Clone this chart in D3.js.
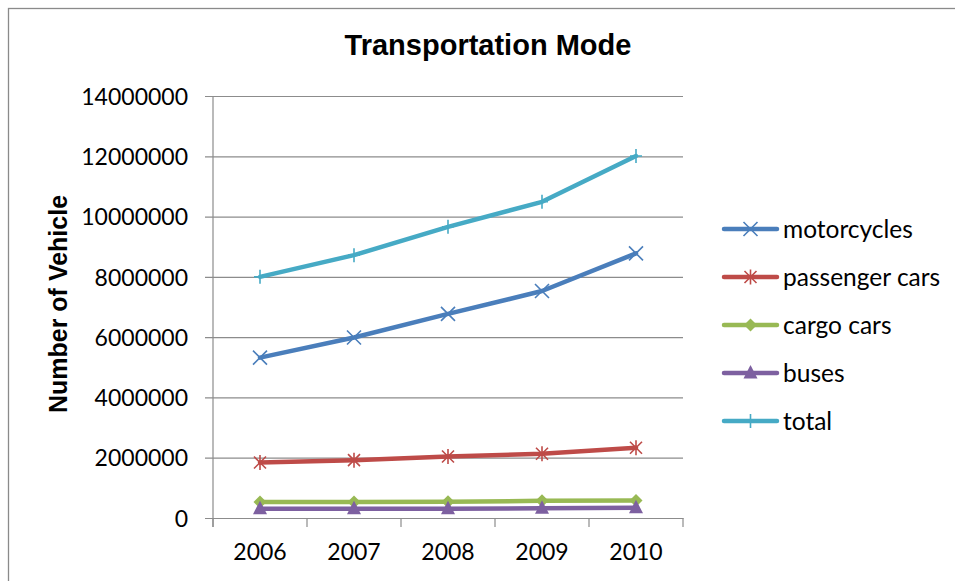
<!DOCTYPE html>
<html>
<head>
<meta charset="utf-8">
<script src="https://cdn.jsdelivr.net/npm/d3@7"></script>
<style>
  html, body { margin: 0; padding: 0; background: #fff; }
  svg { display: block; }
</style>
</head>
<body>
<svg id="chart" width="955" height="581"></svg>
<script>
const years = ["2006", "2007", "2008", "2009", "2010"];
const motorcycles = [5320000, 5990000, 6770000, 7530000, 8780000];
const passengerCars = [1840000, 1920000, 2040000, 2130000, 2330000];
const cargoCars = [530000, 530000, 540000, 570000, 580000];
const buses = [310000, 310000, 310000, 320000, 340000];
const total = [8000000, 8720000, 9660000, 10490000, 12010000];
const yTicks = [0, 2000000, 4000000, 6000000, 8000000, 10000000, 12000000, 14000000];
const seriesNames = ["motorcycles", "passenger cars", "cargo cars", "buses", "total"];
const seriesValues = [motorcycles, passengerCars, cargoCars, buses, total];
const seriesColors = ["#4A7EBB", "#BE4B48", "#98B954", "#7D60A0", "#46AAC5"];
const seriesMarkers = ["x", "star", "diamond", "triangle", "plus"];

const svg = d3.select("#chart");
const pLeft = 213, pRight = 683, pTop = 96, pBottom = 518;
const tickFont = "Lato, 'Open Sans', sans-serif";

// outer frame
svg.append("rect").attr("x", 8.5).attr("y", 8.5).attr("width", 960).attr("height", 600)
  .attr("fill", "none").attr("stroke", "#8a8a8a").attr("stroke-width", 1.3);

const x = d3.scaleBand().domain(years).range([pLeft, pRight]);
const y = d3.scaleLinear().domain([0, 14000000]).range([pBottom, pTop]);

// gridlines + y axis ticks
const yAxis = d3.axisLeft(y).tickValues(yTicks).tickSize(-(pRight - pLeft)).tickSizeOuter(0)
  .tickPadding(25).tickFormat(d3.format("d"));
const gy = svg.append("g").attr("transform", `translate(${pLeft},0)`).call(yAxis);
gy.select(".domain").remove();
gy.selectAll(".tick line").attr("stroke", "#8c8c8c").attr("stroke-width", 1.2).attr("x1", -8);
gy.selectAll(".tick text").attr("font-family", tickFont).attr("font-size", 23).attr("fill", "#000")
  .attr("dy", "0.36em");

// y axis line
svg.append("line").attr("x1", pLeft).attr("x2", pLeft).attr("y1", pTop).attr("y2", pBottom + 9)
  .attr("stroke", "#8c8c8c").attr("stroke-width", 1.2);

// x axis
const xAxis = d3.axisBottom(x).tickSize(0).tickPadding(0).tickSizeOuter(0);
const gx = svg.append("g").attr("transform", `translate(0,${pBottom})`).call(xAxis);
gx.select(".domain").attr("stroke", "#8c8c8c").attr("stroke-width", 1.2);
gx.selectAll(".tick line").remove();
gx.selectAll(".tick text").attr("font-family", tickFont).attr("font-size", 23).attr("fill", "#000")
  .attr("y", 42).attr("dy", 0);
// category boundary ticks
const bounds = years.map(d => x(d)).concat([x(years[years.length - 1]) + x.bandwidth()]);
svg.append("g").selectAll("line").data(bounds).join("line")
  .attr("x1", d => d).attr("x2", d => d).attr("y1", pBottom).attr("y2", pBottom + 9)
  .attr("stroke", "#8c8c8c").attr("stroke-width", 1.2);

function drawMarker(g, type, color) {
  if (type === "x") {
    g.append("path").attr("d", "M-7,-7L7,7M-7,7L7,-7").attr("stroke", color).attr("stroke-width", 1.6).attr("fill", "none");
  } else if (type === "star") {
    g.append("path").attr("d", "M-6,-6L6,6M-6,6L6,-6M0,-7.5L0,7.5").attr("stroke", color).attr("stroke-width", 1.6).attr("fill", "none");
  } else if (type === "diamond") {
    g.append("path").attr("d", "M0,-6.5L6.5,0L0,6.5L-6.5,0Z").attr("fill", color);
  } else if (type === "triangle") {
    g.append("path").attr("d", "M0,-8L7,5.5L-7,5.5Z").attr("fill", color);
  } else if (type === "plus") {
    g.append("path").attr("d", "M0,-7L0,7M-6,0L6,0").attr("stroke", color).attr("stroke-width", 1.6).attr("fill", "none");
  }
}

const line = d3.line().x((d, i) => x(years[i]) + x.bandwidth() / 2).y(d => y(d));
seriesValues.forEach((vals, si) => {
  const g = svg.append("g");
  g.append("path").datum(vals).attr("d", line).attr("fill", "none")
    .attr("stroke", seriesColors[si]).attr("stroke-width", 4.5).attr("stroke-linejoin", "round").attr("stroke-linecap", "round");
  vals.forEach((v, i) => {
    const m = g.append("g").attr("transform", `translate(${x(years[i]) + x.bandwidth() / 2},${y(v)})`);
    drawMarker(m, seriesMarkers[si], seriesColors[si]);
  });
});

// legend
const lg = svg.append("g");
seriesNames.forEach((name, i) => {
  const cy = 229 + i * 48;
  const row = lg.append("g").attr("transform", `translate(0,${cy})`);
  row.append("line").attr("x1", 724).attr("x2", 777).attr("y1", 0).attr("y2", 0)
    .attr("stroke", seriesColors[i]).attr("stroke-width", 4.5).attr("stroke-linecap", "round");
  const m = row.append("g").attr("transform", "translate(750.5,0)");
  drawMarker(m, seriesMarkers[i], seriesColors[i]);
  row.append("text").attr("x", 783).attr("y", 0).attr("dy", "0.36em").text(name)
    .attr("font-family", tickFont).attr("font-size", 24.5).attr("fill", "#000");
});

// title
svg.append("text").attr("x", 488).attr("y", 55).attr("text-anchor", "middle")
  .attr("font-family", "'Liberation Sans', Arial, sans-serif").attr("font-weight", "bold")
  .attr("font-size", 29).text("Transportation Mode");

// y axis title
svg.append("text").attr("transform", "translate(67,304) rotate(-90)").attr("text-anchor", "middle")
  .attr("font-family", "'Liberation Sans', Arial, sans-serif").attr("font-weight", "bold")
  .attr("font-size", 25).text("Number of Vehicle");
</script>
</body>
</html>
